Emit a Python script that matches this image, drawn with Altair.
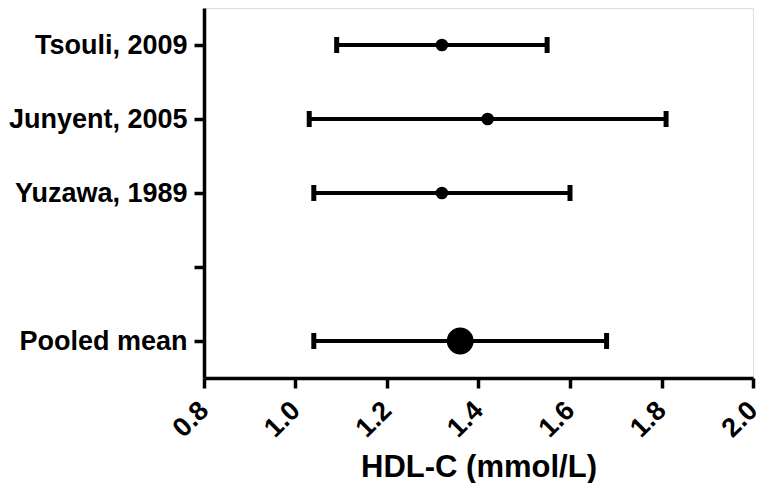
import altair as alt
import pandas as pd

studies = ["Tsouli, 2009", "Junyent, 2005", "Yuzawa, 1989", " ", "Pooled mean"]
means = [1.32, 1.42, 1.32, None, 1.36]
lows = [1.09, 1.03, 1.04, None, 1.04]
highs = [1.55, 1.81, 1.60, None, 1.68]
kind = ["study", "study", "study", "blank", "pooled"]
x_ticks = [0.8, 1.0, 1.2, 1.4, 1.6, 1.8, 2.0]

df = pd.DataFrame({"study": studies, "mean": means, "low": lows, "high": highs, "kind": kind})
data = df[df["kind"] != "blank"]

FONT = "Liberation Sans"

y_enc = alt.Y(
    "study:N",
    sort=studies,
    scale=alt.Scale(domain=studies, type="point", padding=0.5),
    axis=alt.Axis(
        title=None,
        labelFont=FONT,
        labelFontWeight="bold",
        labelFontSize=27,
        labelColor="black",
        labelPadding=7,
        tickSize=10,
        tickWidth=3.5,
        tickColor="black",
        domainColor="black",
        domainWidth=3.5,
        grid=False,
    ),
)

x_scale = alt.Scale(domain=[0.8, 2.0], nice=False, zero=False)

base = alt.Chart(data)

rules = base.mark_rule(color="black", strokeWidth=4).encode(
    x=alt.X(
        "low:Q",
        scale=x_scale,
        axis=alt.Axis(
            title="HDL-C (mmol/L)",
            values=x_ticks,
            format=".1f",
            labelAngle=-45,
            labelAlign="right",
            labelBaseline="middle",
            labelFont=FONT,
            labelFontWeight="bold",
            labelFontSize=27,
            labelColor="black",
            labelPadding=18,
            tickSize=10,
            tickWidth=3.5,
            tickColor="black",
            domainColor="black",
            domainWidth=3.5,
            grid=False,
            titleFont=FONT,
            titleFontWeight="bold",
            titleFontSize=31,
            titleColor="black",
            titlePadding=11,
        ),
    ),
    x2="high:Q",
    y=y_enc,
)

cap_lo = base.mark_tick(color="black", thickness=5, size=16, opacity=1).encode(
    x=alt.X("low:Q", scale=x_scale), y=alt.Y("study:N", sort=studies)
)
cap_hi = base.mark_tick(color="black", thickness=5, size=16, opacity=1).encode(
    x=alt.X("high:Q", scale=x_scale), y=alt.Y("study:N", sort=studies)
)

points = base.mark_point(filled=True, color="black", opacity=1).encode(
    x=alt.X("mean:Q", scale=x_scale),
    y=alt.Y("study:N", sort=studies),
    size=alt.Size(
        "kind:N",
        scale=alt.Scale(domain=["study", "pooled"], range=[160, 720]),
        legend=None,
    ),
)

chart = (
    alt.layer(rules, cap_lo, cap_hi, points)
    .properties(width=549, height=370, padding=0)
    .configure_view(stroke=None)
    .configure(background="white")
)

chart.save("out.html", embed_options={"renderer": "svg", "actions": False})
